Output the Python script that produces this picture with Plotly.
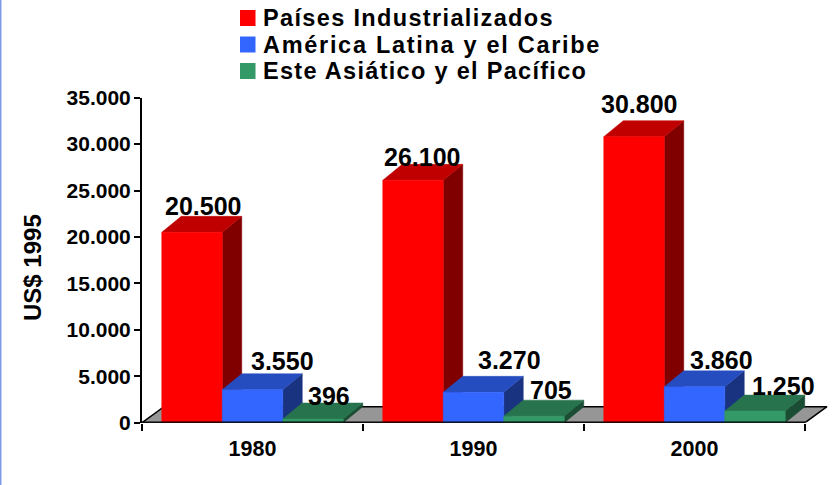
import plotly.graph_objects as go

# ---- data ----
years = ["1980", "1990", "2000"]
series_names = ["Países Industrializados", "América Latina y el Caribe", "Este Asiático y el Pacífico"]
industrializados = [20500, 26100, 30800]
america_latina = [3550, 3270, 3860]
este_asiatico = [396, 705, 1250]
y_ticks = [0, 5000, 10000, 15000, 20000, 25000, 30000, 35000]
y_title = "US$ 1995"

# ---- style ----
FRONT = ["#FF0000", "#3366FF", "#339966"]
TOP = ["#C00000", "#264DBF", "#26734D"]
SIDE = ["#800000", "#1A3380", "#1A4D33"]
FONT = "Liberation Sans"
W, H = 838, 485
PX_L, PX_R, PX_Y0, PX_Y1 = 142.0, 805.0, 422.7, 97.7
PX_PER_CAT = (PX_R - PX_L) / len(years)
PX_PER_VAL = (PX_Y0 - PX_Y1) / 35000
BAR_W = 60.5 / PX_PER_CAT
DEPTH_X, DEPTH_Y = 19.5 / PX_PER_CAT, 16 / PX_PER_VAL
FLOOR_X, FLOOR_Y = 22 / PX_PER_CAT, 16 / PX_PER_VAL
# label nudges in pixels (series by category), from bar centre / bar top
LABEL_DX = [[11, 8.5, 5], [30, 36, 27], [16, 17, 28]]
LABEL_DY = [[26, 23.5, 33], [29, 32, 27], [23, 26, 25]]
LEG_Y = [18, 44.5, 71]
LEG_SPACING = [1.35, 1.7, 1.3]

all_series = [industrializados, america_latina, este_asiatico]
fig = go.Figure()


def poly(xs, ys, fill, line=None, lw=0.5):
    fig.add_trace(go.Scatter(
        x=xs + [xs[0]], y=ys + [ys[0]], mode="lines", fill="toself", fillcolor=fill,
        line=dict(color=line or fill, width=lw), hoverinfo="skip", showlegend=False, cliponaxis=False))


# floor
x0, x1 = -0.5, 2.5
poly([x0, x1, x1 + FLOOR_X, x0 + FLOOR_X], [0, 0, FLOOR_Y, FLOOR_Y], "#969696", "#000000", 1.5)
fig.add_trace(go.Scatter(x=[x0, x1], y=[-230, -230], mode="lines", line=dict(color="#969696", width=2),
                         hoverinfo="skip", showlegend=False, cliponaxis=False))

# bars, painted back-to-front
for c in range(len(years)):
    for s, values in enumerate(all_series):
        v = values[c]
        l = c + (s - 1.5) * BAR_W
        r = l + BAR_W
        poly([r, r + DEPTH_X, r + DEPTH_X, r], [0, DEPTH_Y, v + DEPTH_Y, v], SIDE[s])
        poly([l, r, r + DEPTH_X, l + DEPTH_X], [v, v, v + DEPTH_Y, v + DEPTH_Y], TOP[s])
        poly([l, r, r, l], [0, 0, v, v], FRONT[s])

# front edge of floor
fig.add_trace(go.Scatter(x=[x0, x1], y=[0, 0], mode="lines", line=dict(color="#000000", width=2.5),
                         hoverinfo="skip", showlegend=False, cliponaxis=False))

# value labels
for s, values in enumerate(all_series):
    for c, v in enumerate(values):
        fig.add_annotation(
            x=c + (s - 1) * BAR_W, y=v, xref="x", yref="y",
            text=f"{v:,}".replace(",", "."), showarrow=False,
            xshift=LABEL_DX[s][c], yshift=LABEL_DY[s][c], xanchor="center", yanchor="middle",
            font=dict(family=FONT, size=25, color="#000000", weight=700))

# legend
for s, name in enumerate(series_names):
    fig.add_shape(type="rect", xref="paper", yref="paper", x0=240 / W, x1=255.5 / W,
                  y0=1 - (LEG_Y[s] - 8) / H, y1=1 - (LEG_Y[s] + 8) / H,
                  fillcolor=FRONT[s], line=dict(width=0))
    fig.add_annotation(x=261 / W, y=1 - LEG_Y[s] / H, xref="paper", yref="paper",
                       text=f'<span style="letter-spacing:{LEG_SPACING[s]}px">{name}</span>',
                       showarrow=False, xanchor="left", yanchor="middle",
                       font=dict(family=FONT, size=23.5, color="#000000", weight=700))

# axis title
fig.add_annotation(x=32 / W, y=1 - 268 / H, xref="paper", yref="paper", text=y_title, textangle=-90,
                   showarrow=False, xanchor="center", yanchor="middle",
                   font=dict(family=FONT, size=24, color="#000000", weight=700))

# page edge line
fig.add_shape(type="rect", xref="paper", yref="paper", x0=0, x1=1.5 / W, y0=0, y1=1,
              fillcolor="#7F9BE8", line=dict(width=0))

fig.update_layout(
    width=W, height=H, margin=dict(l=0, r=0, t=0, b=0, autoexpand=False), paper_bgcolor="#FFFFFF",
    plot_bgcolor="rgba(0,0,0,0)", showlegend=False,
    xaxis=dict(domain=[PX_L / W, 1], range=[-0.5, -0.5 + (W - PX_L) / PX_PER_CAT], tickmode="array",
               tickvals=list(range(len(years))), ticktext=years, ticks="", showgrid=False, zeroline=False,
               showline=False, ticklabelstandoff=11, fixedrange=True,
               tickfont=dict(family=FONT, size=21.5, color="#000000", weight=700),
               minor=dict(tickmode="array", tickvals=[-0.5, 0.5, 1.5, 2.5], ticks="outside", ticklen=7,
                          tickwidth=2, tickcolor="#000000", showgrid=False)),
    yaxis=dict(domain=[1 - PX_Y0 / H, 1 - PX_Y1 / H], range=[0, 35000], tickmode="array", tickvals=y_ticks,
               ticktext=[f"{v:,}".replace(",", ".") for v in y_ticks], ticks="outside", ticklen=6, tickwidth=2,
               tickcolor="#000000", showline=True, linecolor="#000000", linewidth=2, showgrid=False,
               zeroline=False, fixedrange=True, ticklabelstandoff=-1,
               tickfont=dict(family=FONT, size=21, color="#000000", weight=700)),
)
fig.write_html("out.html", config=dict(displayModeBar=False), post_script="document.body.style.margin='0';")
